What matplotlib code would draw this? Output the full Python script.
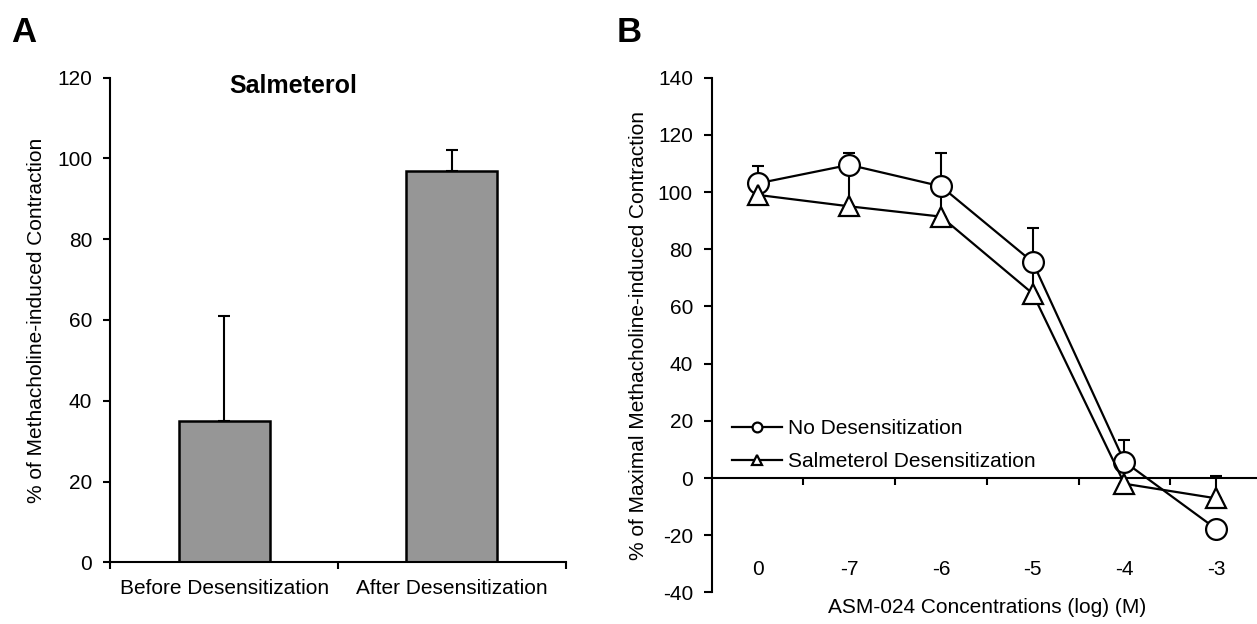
import numpy as np
import matplotlib.pyplot as plt
from matplotlib.ticker import FixedLocator

plt.rcParams['font.family'] = ['Liberation Sans', 'DejaVu Sans']
plt.rcParams['font.size'] = 15
plt.rcParams['axes.unicode_minus'] = False

# panel A - salmeterol bars
groups = ['Before Desensitization', 'After Desensitization']
salm_mean = [35, 97]
salm_err = [26, 5]

# panel B - concentration response
conc_labels = ['0', '-7', '-6', '-5', '-4', '-3']
no_desens = [103, 109.5, 102, 75.5, 5.7, -17.8]
no_desens_err = [6, 4.3, 11.5, 12, 7.6, 2]
salm_desens = [99, 95, 91.4, 64.5, -2, -7.1]
salm_desens_err = [3, 12, 8, 8, 6, 7.8]

fig = plt.figure(figsize=(12.57, 6.24), dpi=100)

# ---- panel A ----
axA = fig.add_axes([0.0877, 0.0989, 0.3623, 0.7767])
xa = np.arange(len(groups))
axA.errorbar(xa, salm_mean, yerr=[np.zeros(len(xa)), salm_err], fmt='none',
             ecolor='black', elinewidth=1.5, capsize=4, capthick=1.5, zorder=1)
axA.bar(xa, salm_mean, width=0.4, color='#969696', edgecolor='black',
        linewidth=1.8, zorder=2)
axA.set_xlim(-0.5, len(groups) - 0.5)
axA.set_ylim(0, 120)
axA.set_yticks(range(0, 121, 20))
axA.xaxis.set_major_locator(FixedLocator(np.arange(len(groups) + 1) - 0.5))
axA.set_xticklabels([])
axA.set_xticks(xa, minor=True)
axA.set_xticklabels(groups, minor=True)
axA.tick_params(axis='x', which='major', length=5, width=1.5)
axA.tick_params(axis='x', which='minor', length=0, pad=12)
axA.tick_params(axis='y', length=5, width=1.5, pad=8)
for s in ['top', 'right']:
    axA.spines[s].set_visible(False)
for s in ['left', 'bottom']:
    axA.spines[s].set_linewidth(1.5)
axA.set_ylabel('% of Methacholine-induced Contraction')
axA.yaxis.set_label_coords(-0.14, 0.5)
axA.text(0.401, 0.9835, 'Salmeterol', transform=axA.transAxes, ha='center',
         va='center', fontsize=18, fontweight='bold')

# ---- panel B ----
axB = fig.add_axes([0.5662, 0.0506, 0.4378, 0.825])
xb = np.arange(len(conc_labels))
axB.errorbar(xb, no_desens, yerr=[np.zeros(len(xb)), no_desens_err], fmt='none',
             ecolor='black', elinewidth=1.5, capsize=4, capthick=1.5, zorder=1)
axB.errorbar(xb, salm_desens, yerr=[np.zeros(len(xb)), salm_desens_err], fmt='none',
             ecolor='black', elinewidth=1.5, capsize=4, capthick=1.5, zorder=1)
axB.plot(xb, no_desens, '-o', color='black', mfc='white', mec='black', ms=15,
         mew=1.6, lw=1.6, zorder=3, label='No Desensitization')
axB.plot(xb, salm_desens, '-^', color='black', mfc='white', mec='black', ms=15,
         mew=1.6, lw=1.6, zorder=4, label='Salmeterol Desensitization')
axB.set_xlim(-0.5, len(conc_labels) - 0.5)
axB.set_ylim(-40, 140)
axB.set_yticks(range(-40, 141, 20))
axB.set_xticks(xb)
axB.set_xticklabels(conc_labels)
axB.set_xticks(np.arange(len(conc_labels)) + 0.5, minor=True)
axB.tick_params(axis='x', which='major', length=0, pad=59)
axB.tick_params(axis='x', which='minor', length=5, width=1.5)
axB.tick_params(axis='y', length=5.5, width=1.5, pad=8)
axB.spines['bottom'].set_position(('data', 0))
for s in ['top', 'right']:
    axB.spines[s].set_visible(False)
for s in ['left', 'bottom']:
    axB.spines[s].set_linewidth(1.5)
axB.set_ylabel('% of Maximal Methacholine-induced Contraction')
axB.yaxis.set_label_coords(-0.115, 0.5)
axB.set_xlabel('ASM-024 Concentrations (log) (M)')
axB.xaxis.set_label_coords(0.5, -0.011)
axB.legend(loc='center left', bbox_to_anchor=(0.037, 0.2865), frameon=False,
           borderpad=0, borderaxespad=0, handlelength=2.4, handletextpad=0.3,
           labelspacing=0.67, markerscale=0.47, numpoints=1)

fig.text(0.0085, 0.9327, 'A', fontsize=25, fontweight='bold', va='baseline')
fig.text(0.4907, 0.9327, 'B', fontsize=25, fontweight='bold', va='baseline')

fig.savefig('out.png', dpi=100)
